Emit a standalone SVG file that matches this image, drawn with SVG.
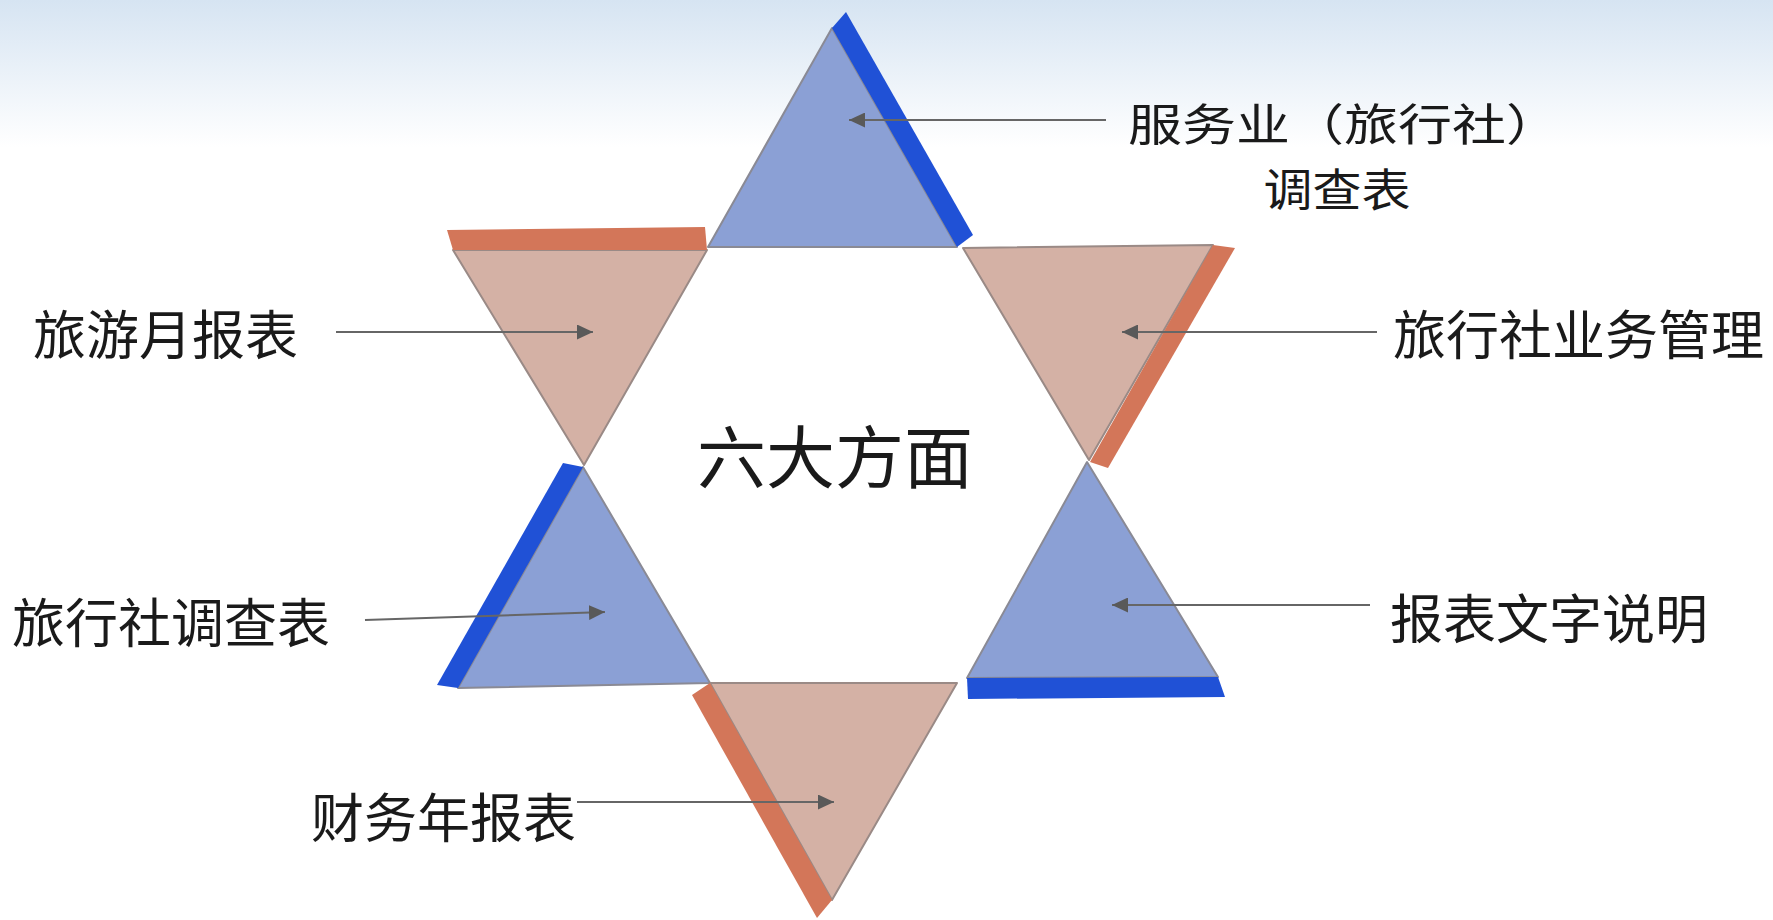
<svg xmlns="http://www.w3.org/2000/svg" width="1773" height="920" viewBox="0 0 1773 920">
  <defs>
    <linearGradient id="bg" x1="0" y1="0" x2="0" y2="1">
      <stop offset="0" stop-color="#d6e4f2"/>
      <stop offset="0.16" stop-color="#ffffff"/>
      <stop offset="1" stop-color="#ffffff"/>
    </linearGradient>
    <marker id="ah" markerUnits="userSpaceOnUse" markerWidth="16" markerHeight="15" refX="16" refY="7.5" orient="auto">
      <path d="M0,0 L16,7.5 L0,15 z" fill="#595959"/>
    </marker>
    <style>
      .blue { fill: #8ba0d5; stroke: #8a8a95; stroke-width: 2; stroke-linejoin: round; }
      .salmon { fill: #d4b1a5; stroke: #9a8a86; stroke-width: 2; stroke-linejoin: round; }
      .bstripe { fill: #2051d6; }
      .sstripe { fill: #d37659; }
      .lbl { font-family: "Noto Sans CJK SC", "Noto Sans", sans-serif; fill: #1a1a1a; dominant-baseline: central; }
      .conn { stroke: #666666; stroke-width: 2; fill: none; marker-end: url(#ah); }
    </style>
  </defs>
  <rect x="0" y="0" width="1773" height="920" fill="url(#bg)"/>

  <g id="tri-top">
    <polygon class="blue" points="832,28 708,247 957,247"/>
    <polygon class="bstripe" points="832,28 846,12 973,235 957,247"/>
  </g>
  <g id="tri-upper-left">
    <polygon class="salmon" points="453,250 707,250 584,465"/>
    <polygon class="sstripe" points="447,230 705,227 707,250 453,250"/>
  </g>
  <g id="tri-upper-right">
    <polygon class="salmon" points="963,248 1213,245 1089,460"/>
    <polygon class="sstripe" points="1213,245 1235,248 1108,468 1090,462"/>
  </g>
  <g id="tri-lower-left">
    <polygon class="blue" points="583,467 458,688 710,683"/>
    <polygon class="bstripe" points="563,463 583,467 458,688 437,685"/>
  </g>
  <g id="tri-lower-right">
    <polygon class="blue" points="1087,462 967,678 1218,677"/>
    <polygon class="bstripe" points="967,678 1218,677 1225,697 968,699"/>
  </g>
  <g id="tri-bottom">
    <polygon class="salmon" points="710,683 957,683 832,900"/>
    <polygon class="sstripe" points="710,683 692,695 817,918 832,900"/>
  </g>

  <g id="center">
    <text class="lbl" x="835" y="453" font-size="68" text-anchor="middle" textLength="276" lengthAdjust="spacingAndGlyphs">六大方面</text>
  </g>

  <g id="label-top">
    <text class="lbl" x="1128" y="122" font-size="44" textLength="432" lengthAdjust="spacingAndGlyphs">服务业（旅行社）</text>
    <text class="lbl" x="1337" y="187" font-size="45" text-anchor="middle" textLength="147" lengthAdjust="spacingAndGlyphs">调查表</text>
  </g>
  <g id="label-upper-left">
    <text class="lbl" x="33" y="332" font-size="53">旅游月报表</text>
  </g>
  <g id="label-upper-right">
    <text class="lbl" x="1393" y="332" font-size="53">旅行社业务管理</text>
  </g>
  <g id="label-lower-left">
    <text class="lbl" x="12" y="620" font-size="53">旅行社调查表</text>
  </g>
  <g id="label-lower-right">
    <text class="lbl" x="1390" y="616" font-size="53">报表文字说明</text>
  </g>
  <g id="label-bottom">
    <text class="lbl" x="311" y="815" font-size="53">财务年报表</text>
  </g>

  <g id="connectors">
    <line class="conn" x1="1106" y1="120" x2="849" y2="120"/>
    <line class="conn" x1="336" y1="332" x2="593" y2="332"/>
    <line class="conn" x1="1377" y1="332" x2="1122" y2="332"/>
    <line class="conn" x1="365" y1="620" x2="605" y2="612"/>
    <line class="conn" x1="1370" y1="605" x2="1112" y2="605"/>
    <line class="conn" x1="577" y1="802" x2="834" y2="802"/>
  </g>
</svg>
